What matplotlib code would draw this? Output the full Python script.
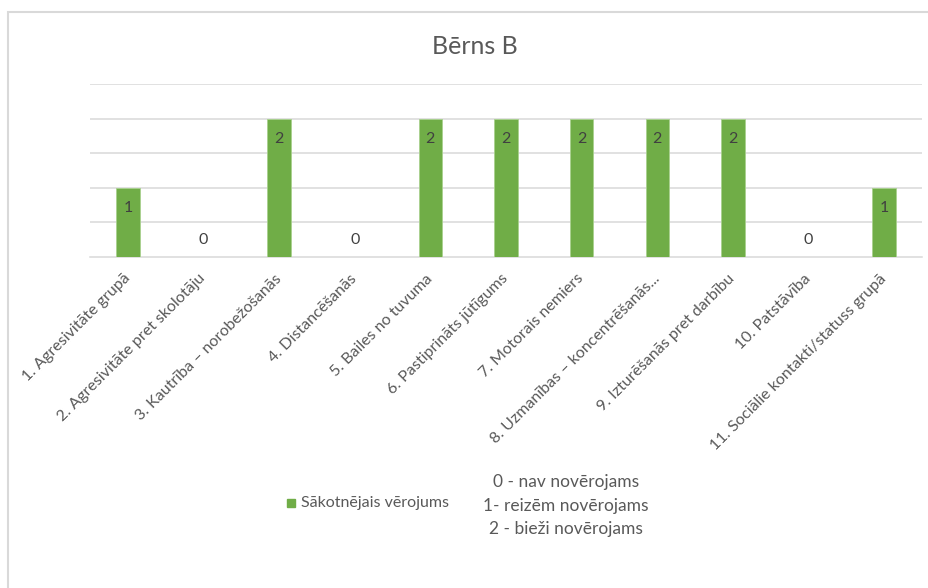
import matplotlib.pyplot as plt
from matplotlib.patches import Rectangle

plt.rcParams['font.family'] = ['Lato', 'DejaVu Sans']

categories = [
    '1. Agresivitāte grupā',
    '2. Agresivitāte pret skolotāju',
    '3. Kautrība – norobežošanās',
    '4. Distancēšanās',
    '5. Bailes no tuvuma',
    '6. Pastiprināts jūtīgums',
    '7. Motorais nemiers',
    '8. Uzmanības – koncentrēšanās...',
    '9. Izturēšanās pret darbību',
    '10. Patstāvība',
    '11. Sociālie kontakti/statuss grupā',
]
values = [1, 0, 2, 0, 2, 2, 2, 2, 2, 0, 1]
series_name = 'Sākotnējais vērojums'
scale_note = ['0 - nav novērojams', '1- reizēm novērojams', '2 - bieži novērojams']

green = '#70ad47'
txt = '#595959'
grid = '#d9d9d9'

fig = plt.figure(figsize=(9.29, 5.88), dpi=100)
W, H = 929, 588

# chart frame
fig.patches.append(Rectangle((8 / W, -0.1), 1.1, 1 - 12 / H + 0.1, transform=fig.transFigure,
                             fill=False, edgecolor=grid, linewidth=1.5))

ax = fig.add_axes([90 / W, 1 - 257 / H, 832 / W, 173 / H])
x = list(range(len(categories)))
ax.bar(x, values, width=0.31, color=green, edgecolor='#a9d18e', linewidth=0.6, zorder=3)
ax.set_xlim(-0.5, len(categories) - 0.5)
ax.set_ylim(0, 2.5)
ax.set_yticks([0.5, 1, 1.5, 2, 2.5])
ax.set_yticklabels([])
ax.tick_params(axis='y', length=0)
ax.grid(axis='y', color=grid, linewidth=1.1, zorder=0)
for s in ['top', 'right', 'left']:
    ax.spines[s].set_visible(False)
ax.spines['bottom'].set_color(grid)
ax.spines['bottom'].set_linewidth(1.1)

ax.set_xticks(x)
ax.set_xticklabels(categories, rotation=45, ha='right', va='center',
                   rotation_mode='anchor', fontsize=11.5, color=txt)
ax.tick_params(axis='x', length=0, pad=14)

for xi, v in zip(x, values):
    off = -14.5 if v > 0 else 12.5
    ax.annotate(str(v), (xi, v), xytext=(0, off), textcoords='offset points',
                ha='center', va='center', fontsize=11.5, color='#404040')

fig.text(475 / W, 1 - 47 / H, 'Bērns B', ha='center', va='center', fontsize=18, color=txt)

# legend
fig.patches.append(Rectangle((287 / W, 1 - 507 / H), 8 / W, 8 / H, transform=fig.transFigure,
                             color=green))
fig.text(301 / W, 1 - 503 / H, series_name, ha='left', va='center', fontsize=11.5, color=txt)
for i, line in enumerate(scale_note):
    fig.text(566 / W, 1 - (482 + 23.5 * i) / H, line, ha='center', va='center',
             fontsize=12.5, color=txt)

fig.savefig('out.png', dpi=100)
